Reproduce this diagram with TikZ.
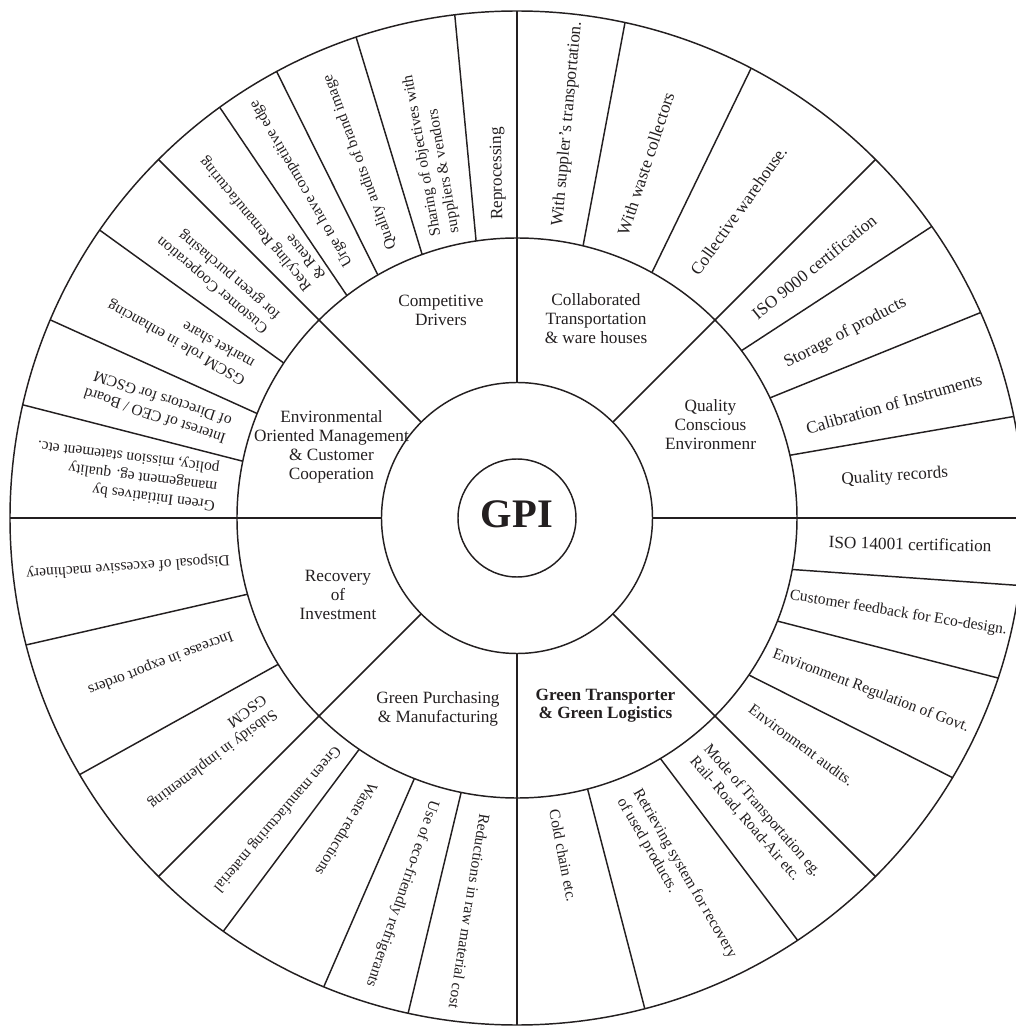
\documentclass[tikz,border=0pt]{standalone}
\usepackage{fontspec}
\setmainfont{Liberation Serif}
\usepackage{xcolor}
\definecolor{ink}{RGB}{35,31,32}

\begin{document}
\begin{tikzpicture}[
    x=0.58pt, y=0.58pt,
    wheel/.style={draw=ink, line width=0.85pt},
    hub text/.style={text=ink, inner sep=0pt, font=\fontsize{23.5}{28}\selectfont\bfseries},
    sector/.style={text=ink, align=center, inner sep=0pt, font=\fontsize{10}{11}\selectfont},
    rim/.style={text=ink, align=left, inner sep=0pt, font=\fontsize{9}{10.8}\selectfont},
    rim large/.style={rim, font=\fontsize{10}{11}\selectfont}
]
    \useasboundingbox (-517,-508) rectangle (499,518);
    \clip (-517,-508) rectangle (499,518);

    % ==================== RINGS ====================
    \draw[wheel] (0,0) circle (59);
    \draw[wheel] (0,0) circle (135.5);
    \draw[wheel] (0,0) circle (280);
    \draw[wheel] (0,0) circle (507);

    % ==================== SECTOR LINES ====================
    \draw[wheel] (0:135.5) -- (0:507);
    \draw[wheel] (45:135.5) -- (45:507);
    \draw[wheel] (90:135.5) -- (90:507);
    \draw[wheel] (135:135.5) -- (135:507);
    \draw[wheel] (180:135.5) -- (180:507);
    \draw[wheel] (225:135.5) -- (225:507);
    \draw[wheel] (270:135.5) -- (270:507);
    \draw[wheel] (315:135.5) -- (315:507);

    % ==================== RIM DIVIDERS ====================
    % upper right
    \draw[wheel] (76.35:280) -- (77.7:507);
    \draw[wheel] (61.2:280) -- (62.5:507);
    \draw[wheel] (36.7:280) -- (35.1:507);
    \draw[wheel] (25.4:280) -- (23.9:507);
    \draw[wheel] (12.95:280) -- (11.55:507);
    % lower right
    \draw[wheel] (-10.6:280) -- (-7.65:507);
    \draw[wheel] (-21.6:280) -- (-18.4:507);
    \draw[wheel] (-34.1:280) -- (-30.8:507);
    \draw[wheel] (-59.2:280) -- (-56.4:507);
    \draw[wheel] (-75.4:280) -- (-75.4:507);
    % lower left
    \draw[wheel] (-101.5:280) -- (-102.4:507);
    \draw[wheel] (-111.5:280) -- (-112.4:507);
    \draw[wheel] (-124.3:280) -- (-125.4:507);
    \draw[wheel] (-148.5:280) -- (-149.6:507);
    \draw[wheel] (-164.2:280) -- (-165.5:507);
    % upper left
    \draw[wheel] (168.3:280) -- (167.1:507);
    \draw[wheel] (158.1:280) -- (157.0:507);
    \draw[wheel] (146.4:280) -- (145.4:507);
    \draw[wheel] (127.4:280) -- (125.9:507);
    \draw[wheel] (119.8:280) -- (118.3:507);
    \draw[wheel] (109.8:280) -- (108.5:507);
    \draw[wheel] (98.4:280) -- (97.05:507);

    % ==================== HUB ====================
    \node[hub text] (gpi) at (0,4) {GPI};

    % ==================== SECTOR LABELS ====================
    \node[sector] (drivers) at (-76,207.5) {Competitive\\Drivers};
    \node[sector] (collab) at (79,199) {Collaborated\\Transportation\\\& ware houses};
    \node[sector] (quality) at (193.5,93.7) {Quality\\Conscious\\Environmenr};
    \node[sector] (envmgmt) at (-185.5,71.3) {Environmental\\Oriented Management\\\& Customer\\Cooperation};
    \node[sector] (recovery) at (-179,-77) {Recovery\\of\\Investment};
    \node[sector] (purchasing) at (-79,-190.8) {Green Purchasing\\\& Manufacturing};
    \node[sector, font=\fontsize{10}{11}\selectfont\bfseries] (logistics) at (88.5,-187.7) {Green Transporter\\\& Green Logistics};

    % ==================== RIM LABELS ====================
    % upper right
    \node[rim large, rotate=84.7] (r1) at (82.7:397) {With suppler's transportation.};
    \node[rim large, rotate=71.75] (r2) at (70:377) {With waste collectors};
    \node[rim large, rotate=54.5] (r3) at (54.2:379) {Collective warehouse.};
    \node[rim large, rotate=39] (r4) at (40.2:389) {ISO 9000 certification};
    \node[rim large, rotate=27.5] (r5) at (29.4:377) {Storage of products};
    \node[rim large, rotate=15.9] (r6) at (16.9:394) {Calibration of Instruments};
    \node[rim large, rotate=4] (r7) at (6.2:380) {Quality records};
    % lower right
    \node[rim large, rotate=-1.5] (r8) at (-3.8:394) {ISO 14001 certification};
    \node[rim, rotate=-9.2] (r9) at (-14:393) {Customer feedback for Eco-design.};
    \node[rim, rotate=-20.8] (r10) at (-26.1:394) {Environment Regulation of Govt.};
    \node[rim, rotate=-36.5] (r11) at (-38.6:364) {Environment audits.};
    \node[rim, rotate=-49] (r12) at (-51.4:382) {Mode of Transportation eg.\\Rail- Road, Road-Air etc.};
    \node[rim, rotate=-60] (r13) at (-66.1:394) {Retrieving system for recovery\\of used products.};
    \node[rim, rotate=-79] (r14) at (-82.2:341) {Cold chain etc.};
    % lower left
    \node[rim, rotate=-99] (r15) at (-96.9:396) {Reductions in raw material cost};
    \node[rim, rotate=-109] (r16) at (-107:393) {Use of eco-friendly refrigerants};
    \node[rim, rotate=-121] (r17) at (-118.7:355) {Waste reductions};
    \node[rim, rotate=-130.5] (r18) at (-128.6:385) {Green manufacturing material};
    \node[rim, rotate=-143.3] (r19) at (-142.8:388) {Subsidy in implementing\\GSCM};
    \node[rim, rotate=-159] (r20) at (-157.9:385) {Increase in export orders};
    \node[rim, rotate=-176] (r21) at (-172.9:392) {Disposal of excessive machinery};
    % upper left
    \node[rim, rotate=172.8] (r22) at (173.7:393) {Green Initiatives by\\management eg. quality\\policy, mission statement etc.};
    \node[rim, rotate=161.5] (r23) at (162.9:376) {Interest of CEO / Board\\of Directors for GSCM};
    \node[rim, rotate=150.5] (r24) at (151.5:383) {GSCM role in enhancing\\market share};
    \node[rim, rotate=139.6] (r25) at (141.1:383) {Customer Cooperation\\for green purchasing};
    \node[rim, rotate=129.3] (r26) at (130.5:393) {Recyling Remanufacturing\\\& Reuse};
    \node[rim, rotate=120.2] (r27) at (122.8:398) {Urge to have competitive edge};
    \node[rim, rotate=110.5] (r28) at (113.8:389) {Quality audits of brand image};
    \node[rim, rotate=100] (r29) at (103.2:374) {Sharing of objectives with\\suppliers \& vendors};
    \node[rim large, rotate=91] (r30) at (93.2:345) {Reprocessing};
\end{tikzpicture}
\end{document}
